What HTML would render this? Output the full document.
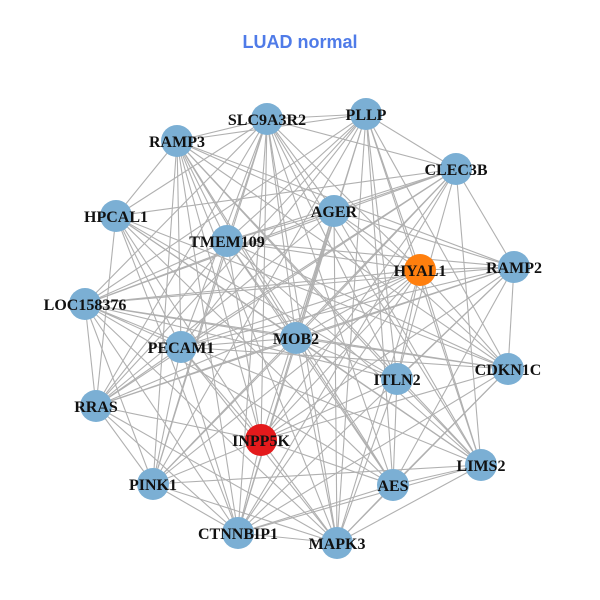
<!DOCTYPE html>
<html><head><meta charset="utf-8"><style>
html,body{margin:0;padding:0;background:#fff;}
svg{display:block;}
text.l{font-family:"Liberation Serif",serif;font-weight:bold;font-size:16px;fill:#111;text-anchor:middle;}
</style></head><body>
<svg id="s" width="600" height="600" viewBox="0 0 600 600">
<text x="300" y="48" font-family="Liberation Sans, sans-serif" font-weight="bold" font-size="18" fill="#4f7be8" text-anchor="middle">LUAD normal</text>
<g id="e" stroke="#b0b0b0" stroke-width="1.1"></g>
<g id="n"></g>
<g>
<text class="l" x="267" y="125">SLC9A3R2</text>
<text class="l" x="366" y="120">PLLP</text>
<text class="l" x="177" y="147">RAMP3</text>
<text class="l" x="456" y="175">CLEC3B</text>
<text class="l" x="116" y="222">HPCAL1</text>
<text class="l" x="334" y="217">AGER</text>
<text class="l" x="227" y="247">TMEM109</text>
<text class="l" x="420" y="276">HYAL1</text>
<text class="l" x="514" y="273">RAMP2</text>
<text class="l" x="85" y="310">LOC158376</text>
<text class="l" x="296" y="344">MOB2</text>
<text class="l" x="181" y="353">PECAM1</text>
<text class="l" x="508" y="375">CDKN1C</text>
<text class="l" x="397" y="385">ITLN2</text>
<text class="l" x="96" y="412">RRAS</text>
<text class="l" x="261" y="446">INPP5K</text>
<text class="l" x="481" y="471">LIMS2</text>
<text class="l" x="393" y="491">AES</text>
<text class="l" x="153" y="490">PINK1</text>
<text class="l" x="238" y="539">CTNNBIP1</text>
<text class="l" x="337" y="549">MAPK3</text>
</g>
</svg>
<script>
var N=[[267,119],[366,114],[177,141],[456,169],[116,216],[334,211],[227,241],[420,270,'#ff7f0e'],[514,267],[85,304],[296,338],[181,347],[508,369],[397,379],[96,406],[261,440,'#e41a1c'],[481,465],[393,485],[153,484],[238,533],[337,543]];
var ns='http://www.w3.org/2000/svg',e=document.getElementById('e'),g=document.getElementById('n');
var seed=7;function r(){seed=(seed*9301+49297)%233280;return seed/233280;}
for(var i=0;i<N.length;i++)for(var j=i+1;j<N.length;j++){if(r()<0.72){var l=document.createElementNS(ns,'line');l.setAttribute('x1',N[i][0]);l.setAttribute('y1',N[i][1]);l.setAttribute('x2',N[j][0]);l.setAttribute('y2',N[j][1]);e.appendChild(l);}}
N.forEach(function(p){var c=document.createElementNS(ns,'circle');c.setAttribute('cx',p[0]);c.setAttribute('cy',p[1]);c.setAttribute('r',16);c.setAttribute('fill',p[2]||'#7bafd4');g.appendChild(c);});
</script>
</body></html>
